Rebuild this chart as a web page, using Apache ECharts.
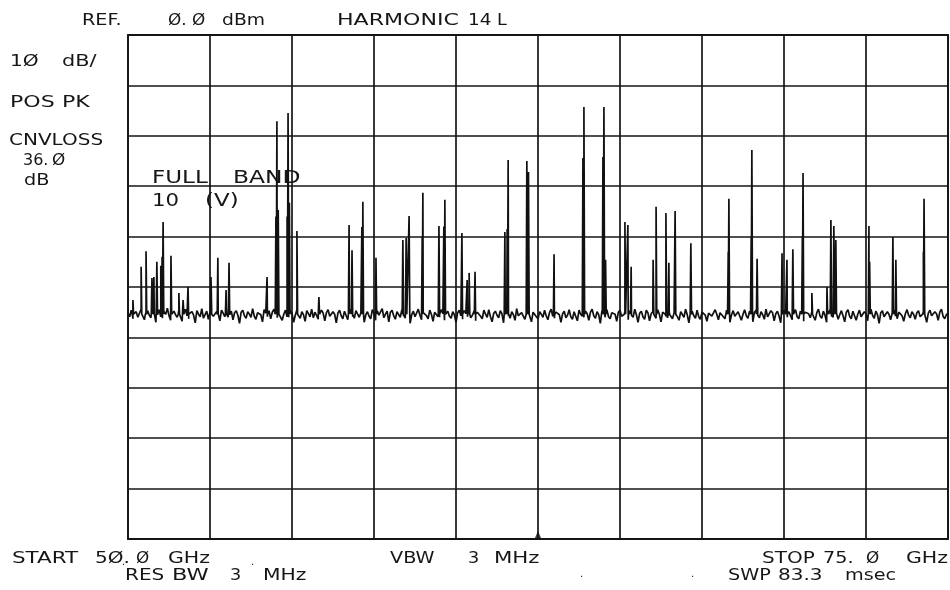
<!DOCTYPE html>
<html>
<head>
<meta charset="utf-8">
<script src="https://cdn.jsdelivr.net/npm/echarts@6/dist/echarts.min.js"></script>
<style>
html,body{margin:0;padding:0;background:#fff;}
#chart{width:950px;height:590px;}
</style>
</head>
<body>
<div id="chart"></div>
<script>
// ---- sweep settings ----
const START_GHZ = 50.0;
const STOP_GHZ = 75.0;
const STEP_GHZ = 0.05;
const REF_DBM = 0;
const BOTTOM_DBM = -100;
const DIV_GHZ = 2.5;
const DIV_DB = 10;

// ---- noise floor (dBm), one reading per 0.05 GHz from 50.00 to 75.00 GHz ----
const NOISE_DBM = [
-55.1,-55.9,-54.6,-56.3,-55.4,-54.9,-56.0,-55.2,-54.4,-55.8,
-56.5,-55.0,-54.7,-55.6,-56.1,-54.8,-55.3,-57.0,-55.5,-54.5,
-55.9,-56.2,-54.9,-55.4,-54.2,-55.7,-56.6,-55.1,-54.8,-55.5,
-56.0,-54.6,-55.3,-56.8,-55.0,-54.4,-55.7,-56.3,-55.2,-54.9,
-55.6,-57.1,-54.7,-55.4,-55.9,-54.3,-56.2,-55.5,-54.8,-56.4,
-55.0,-54.5,-55.8,-56.1,-54.9,-55.3,-56.7,-54.6,-55.2,-55.9,
-54.4,-56.0,-55.5,-54.8,-56.5,-55.1,-54.7,-55.6,-57.2,-55.0,
-54.6,-55.7,-56.2,-54.9,-55.4,-56.0,-54.3,-55.8,-56.4,-55.1,
-54.8,-55.5,-56.9,-54.5,-55.2,-55.9,-54.7,-56.3,-55.0,-54.4,
-55.7,-56.1,-54.9,-55.3,-56.6,-55.4,-54.6,-55.9,-56.0,-54.8,
-55.2,-57.0,-55.6,-54.5,-55.1,-56.2,-54.9,-55.5,-56.8,-54.7,
-55.3,-55.9,-54.4,-56.1,-55.0,-54.8,-56.4,-55.6,-54.6,-55.2,
-56.7,-55.1,-54.5,-55.8,-56.0,-54.9,-55.4,-57.1,-55.2,-54.6,
-55.7,-56.3,-54.8,-55.0,-56.5,-55.3,-54.4,-55.9,-56.2,-54.7,
-55.4,-56.0,-55.1,-54.6,-57.0,-55.5,-54.9,-55.8,-56.3,-54.5,
-55.2,-56.6,-54.7,-55.6,-55.9,-54.3,-56.1,-55.4,-54.8,-56.9,
-55.0,-54.6,-55.7,-56.4,-54.9,-55.2,-56.0,-54.5,-55.8,-56.2,
-54.7,-55.3,-57.2,-55.5,-54.8,-55.9,-56.1,-54.4,-55.6,-56.5,
-55.1,-54.9,-55.7,-56.3,-54.6,-55.4,-56.8,-55.0,-54.7,-55.9,
-56.0,-54.5,-55.3,-56.6,-55.2,-54.8,-55.8,-56.2,-54.9,-55.5,
-57.0,-55.1,-54.6,-55.7,-56.4,-54.7,-55.3,-55.9,-54.4,-56.1,
-55.6,-54.8,-56.7,-55.0,-54.9,-55.8,-56.3,-54.6,-55.4,-56.0,
-54.5,-55.9,-56.9,-55.2,-54.8,-55.6,-56.1,-54.7,-55.3,-57.1,
-55.0,-54.6,-55.8,-56.2,-54.9,-55.5,-56.6,-54.3,-55.7,-56.0,
-55.1,-54.8,-56.4,-55.6,-54.5,-55.2,-56.9,-55.0,-54.7,-55.9,
-56.3,-54.9,-55.4,-56.0,-54.6,-55.7,-56.5,-55.1,-54.4,-55.8,
-56.2,-55.0,-54.7,-55.5,-57.0,-55.3,-54.8,-56.1,-55.6,-54.5,
-55.9,-56.4,-54.9,-55.2,-56.7,-54.6,-55.4,-55.8,-56.0,-54.8,
-55.3,-56.6,-55.0,-54.4,-55.7,-56.2,-54.9,-55.5,-57.2,-54.7,
-55.6,-56.0,-54.5,-55.9,-56.3,-55.1,-54.8,-55.4,-56.8,-55.0,
-54.6,-55.8,-56.1,-54.9,-55.3,-56.5,-54.7,-55.6,-56.0,-54.4,
-55.5,-57.0,-55.2,-54.8,-55.9,-56.4,-54.6,-55.1,-56.7,-55.3,
-54.9,-55.7,-56.2,-54.5,-55.4,-56.9,-55.0,-54.7,-55.8,-56.1,
-54.8,-55.6,-56.3,-55.1,-54.6,-55.9,-56.6,-54.9,-55.2,-56.0,
-54.4,-55.5,-57.1,-55.3,-54.8,-55.7,-56.2,-54.6,-55.9,-56.4,
-55.0,-54.7,-55.6,-56.8,-55.2,-54.9,-55.8,-56.1,-54.5,-55.4,
-56.5,-55.1,-54.8,-55.9,-56.3,-54.6,-55.3,-57.0,-55.5,-54.7,
-55.8,-56.0,-54.9,-55.2,-56.6,-55.4,-54.5,-55.7,-56.2,-54.8,
-55.3,-56.9,-55.0,-54.6,-55.6,-56.1,-54.9,-55.5,-56.4,-54.4,
-55.9,-56.2,-54.7,-55.1,-56.7,-55.3,-54.8,-55.8,-57.1,-55.0,
-54.6,-55.4,-56.0,-54.9,-55.7,-56.5,-55.2,-54.5,-55.9,-56.3,
-54.8,-55.6,-56.8,-55.0,-54.7,-55.3,-56.1,-54.9,-55.5,-56.6,
-55.1,-54.4,-55.8,-56.2,-54.8,-55.6,-57.0,-55.3,-54.6,-55.9,
-56.0,-54.9,-55.2,-56.4,-55.5,-54.7,-55.7,-56.9,-55.0,-54.5,
-55.8,-56.3,-54.8,-55.1,-56.6,-55.4,-54.6,-55.9,-56.1,-54.9,
-55.3,-56.7,-55.0,-54.4,-55.6,-56.2,-54.8,-55.5,-57.2,-55.1,
-54.7,-55.9,-56.0,-54.9,-55.4,-56.5,-55.2,-54.6,-55.8,-56.3,
-55.0,-54.8,-55.7,-56.8,-55.3,-54.5,-55.6,-56.1,-54.9,-55.4,
-56.4,-55.1,-54.7,-55.9,-56.2,-54.8,-55.5,-57.0,-55.2,-54.6,
-55.7,-56.0,-54.9,-55.3,-56.6,-55.0,-54.4,-55.8,-56.3,-55.5,
-55.2
];

// ---- spectral lines: frequency (GHz) and peak level (dBm) ----
const PEAK_GHZ = [
50.15,50.40,50.55,50.73,50.79,50.88,51.00,51.04,51.07,51.31,51.55,51.68,51.83,
52.53,52.74,52.99,53.08,54.24,
54.51,54.54,54.58,54.85,54.88,54.92,55.15,55.82,
56.74,56.83,57.13,57.16,57.56,58.38,58.48,58.57,58.97,58.99,59.48,59.63,59.66,
60.18,60.34,60.40,60.58,61.49,61.56,61.59,62.16,62.21,62.99,
63.87,63.90,64.48,64.51,64.56,65.15,65.24,65.34,66.01,66.10,66.40,66.49,66.68,67.16,
68.30,68.32,69.00,69.02,69.18,69.94,70.09,70.27,70.56,70.58,70.85,
71.31,71.43,71.52,71.58,72.59,72.61,73.32,73.41,74.25,74.27
];
const PEAK_DBM = [
-52.6,-46.0,-42.9,-48.2,-48.0,-45.0,-45.8,-44.0,-37.1,-43.8,-51.2,-52.6,-50.0,
-48.0,-44.2,-50.6,-45.2,-48.0,
-36.0,-17.1,-34.7,-36.0,-15.5,-33.3,-38.9,-52.0,
-37.7,-42.7,-38.1,-33.1,-44.2,-40.7,-40.3,-35.9,-40.0,-31.3,-37.9,-38.0,-32.7,
-39.3,-48.6,-47.2,-47.0,-39.1,-38.5,-24.8,-25.0,-27.2,-43.5,
-24.4,-14.3,-24.2,-14.3,-44.6,-37.1,-37.7,-46.0,-44.6,-34.1,-35.3,-45.2,-34.9,-41.3,
-43.0,-32.5,-40.0,-22.8,-44.4,-43.3,-44.6,-42.5,-40.0,-27.4,-51.2,
-50.0,-36.7,-37.9,-40.7,-37.9,-45.0,-40.1,-44.6,-43.0,-32.5
];
const SPIKE_BASE_DBM = -55.4;
const SPIKE_HALF_WIDTH_GHZ = 0.02;

// ---- centre-frequency marker ----
const MARKER = [[62.5, -100]];

// ---- build trace through the sweep grid ----
const trace = NOISE_DBM.map((v, i) => [+(START_GHZ + i * STEP_GHZ).toFixed(3), v]);
PEAK_GHZ.forEach((f, i) => {
  trace.push([f - SPIKE_HALF_WIDTH_GHZ, SPIKE_BASE_DBM]);
  trace.push([f, PEAK_DBM[i]]);
  trace.push([f + SPIKE_HALF_WIDTH_GHZ, SPIKE_BASE_DBM]);
});
trace.sort((a, b) => a[0] - b[0]);

// ---- annotation text layout: [text, left x, centre y, font px, horizontal stretch] ----
const INK = '#161616';
const FONT = "'DejaVu Sans', Verdana, sans-serif";
const LABELS = [
  ['REF.', 82, 21, 16, 1.2], ['Ø.', 168, 21, 16, 1.05], ['Ø', 192, 21, 16, 1.05], ['dBm', 222, 21, 16, 1.17],
  ['HARMONIC', 337, 21, 16, 1.38], ['14', 468, 21, 16, 1.15], ['L', 497, 21, 16, 1.1],
  ['1Ø', 10, 62, 16, 1.26], ['dB/', 62, 62, 16, 1.3],
  ['POS', 10, 103, 16, 1.38], ['PK', 62, 103, 16, 1.38],
  ['CNVLOSS', 9, 141, 16, 1.25],
  ['36.', 23, 161, 16, 1.0], ['Ø', 52, 161, 16, 1.05],
  ['dB', 24, 181, 16, 1.2],
  ['FULL', 152, 178, 18, 1.28], ['BAND', 233, 178, 18, 1.3],
  ['10', 152, 202, 17, 1.25], ['(V)', 205, 202, 17, 1.35],
  ['START', 12, 559, 16, 1.34], ['5Ø.', 95, 559, 16, 1.25], ['Ø', 136, 559, 16, 1.05], ['GHz', 168, 559, 16, 1.28],
  ['RES', 125, 576, 16, 1.25], ['BW', 172, 576, 16, 1.4], ['3', 230, 576, 16, 1.1], ['MHz', 263, 576, 16, 1.27],
  ['VBW', 390, 559, 16, 1.2], ['3', 468, 559, 16, 1.1], ['MHz', 494, 559, 16, 1.33],
  ['STOP', 762, 559, 16, 1.25], ['75.', 823, 559, 16, 1.2], ['Ø', 866, 559, 16, 1.05], ['GHz', 906, 559, 16, 1.28],
  ['SWP', 728, 576, 16, 1.2], ['83.3', 778, 576, 16, 1.25], ['msec', 845, 576, 16, 1.2],
  ['.', 122, 562, 10, 1], ['.', 251, 562, 10, 1], ['.', 580, 574, 10, 1], ['.', 691, 574, 10, 1]
];
const graphics = LABELS.map(([text, x, y, size, sx]) => ({
  type: 'text', x: x, y: y, scaleX: sx, originX: 0, originY: 0, silent: true,
  style: {
    text: text, font: size + 'px ' + FONT, fill: INK,
    align: 'left', verticalAlign: 'middle', textAlign: 'left', textVerticalAlign: 'middle'
  }
}));

const chart = echarts.init(document.getElementById('chart'));
chart.setOption({
  animation: false,
  backgroundColor: '#ffffff',
  grid: { left: 128, right: 2, top: 35, bottom: 51, show: true, borderColor: INK, borderWidth: 1.8, backgroundColor: 'transparent' },
  xAxis: {
    type: 'value', min: START_GHZ, max: STOP_GHZ, interval: DIV_GHZ,
    axisLine: { show: false }, axisTick: { show: false }, axisLabel: { show: false },
    splitLine: { show: true, lineStyle: { color: INK, width: 1.7 } }
  },
  yAxis: {
    type: 'value', min: BOTTOM_DBM, max: REF_DBM, interval: DIV_DB,
    axisLine: { show: false }, axisTick: { show: false }, axisLabel: { show: false },
    splitLine: { show: true, lineStyle: { color: INK, width: 1.7 } }
  },
  graphic: graphics,
  series: [
    {
      type: 'line', data: trace, showSymbol: false, symbol: 'none',
      lineStyle: { color: '#111', width: 1.7 }, z: 3
    },
    {
      type: 'scatter', data: MARKER, symbol: 'triangle', symbolSize: [7, 8],
      symbolOffset: [0, -4], itemStyle: { color: '#111' }, clip: false, z: 4
    }
  ]
});
</script>
</body>
</html>
